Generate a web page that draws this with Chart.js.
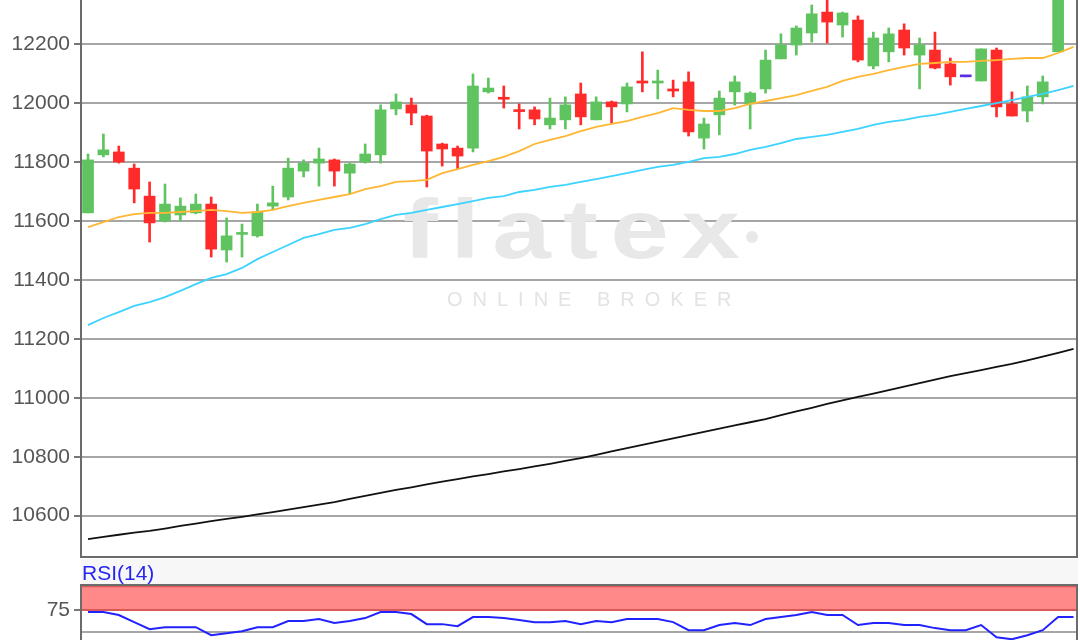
<!DOCTYPE html>
<html>
<head>
<meta charset="utf-8">
<script src="https://cdn.jsdelivr.net/npm/chart.js@4.4.1/dist/chart.umd.min.js"></script>
<style>
  html, body { margin: 0; padding: 0; background: #fff; overflow: hidden; width: 1080px; height: 640px; }
  #main { position: absolute; left: 0; top: 0; }
  #gap { position: absolute; left: 81px; top: 559px; width: 997px; height: 25px; background: #f7f7f7; }
  #rsiLabel { position: absolute; left: 82px; top: 561px; font: 21px "Liberation Sans", Arial, sans-serif; color: #2626f2; }
  #rsi { position: absolute; left: 0; top: 584px; }
</style>
</head>
<body>
<canvas id="main" width="1080" height="560"></canvas>
<div id="gap"></div>
<div id="rsiLabel">RSI(14)</div>
<canvas id="rsi" width="1080" height="91"></canvas>
<script>
// daily candles (64 sessions)
var opens = [11628,11825,11835,11780,11685,11600,11621,11628,11658,11502,
  11555,11550,11651,11682,11770,11797,11808,11763,11801,11825,
  11981,11995,11957,11862,11848,11848,12039,12020,11978,11978,
  11927,11944,12032,11944,12005,11998,12076,12069,12049,12073,
  11882,11961,12039,11998,12049,12151,12198,12239,12310,12266,
  12283,12127,12175,12249,12164,12181,12134,12090,12076,12181,
  11998,11974,12022,12175];
var highs = [11828,11896,11855,11794,11733,11726,11679,11692,11682,11611,
  11590,11658,11719,11814,11808,11848,11811,11797,11862,11995,
  12032,12018,11960,11865,11855,12100,12086,12059,11998,11988,
  12018,12022,12069,12022,12008,12069,12175,12113,12079,12107,
  11950,12042,12093,12039,12181,12236,12263,12334,12360,12310,
  12297,12242,12256,12270,12222,12242,12154,12090,12185,12188,
  12039,12059,12093,12420];
var lows = [11628,11818,11797,11662,11529,11597,11600,11625,11478,11461,
  11478,11546,11638,11672,11750,11719,11719,11692,11797,11797,
  11961,11927,11716,11787,11777,11835,12035,11984,11913,11927,
  11913,11913,11927,11944,11933,11971,12039,12015,12022,11889,
  11845,11893,11994,11913,12035,12151,12164,12208,12205,12225,
  12141,12117,12141,12164,12049,12117,12062,12090,12076,11954,
  11957,11937,11998,12175];
var closes = [11808,11842,11801,11709,11594,11658,11651,11658,11505,11550,
  11561,11631,11662,11780,11797,11811,11770,11794,11828,11978,
  12005,11967,11838,11845,11821,12059,12052,12014,11972,11947,
  11950,11995,11954,12005,11988,12056,12069,12076,12042,11903,
  11930,12018,12073,12035,12147,12198,12256,12304,12276,12307,
  12147,12222,12236,12188,12198,12120,12090,12090,12185,11988,
  11957,12022,12073,12400];

// moving averages and RSI (65 points)
var ma20 = [11580,11597,11614,11624,11628,11628,11631,11634,11638,11634,
  11628,11631,11638,11651,11662,11672,11682,11692,11709,11719,
  11733,11736,11740,11763,11777,11791,11804,11818,11838,11862,
  11876,11889,11906,11920,11930,11940,11954,11967,11984,11978,
  11974,11974,11984,11998,12008,12018,12028,12042,12056,12076,
  12090,12100,12113,12124,12134,12137,12141,12141,12144,12147,
  12151,12154,12154,12171,12192];
var ma50 = [11247,11271,11291,11312,11325,11342,11363,11386,11407,11420,
  11441,11471,11495,11519,11543,11556,11570,11577,11590,11607,
  11621,11628,11638,11648,11658,11668,11679,11685,11699,11706,
  11716,11723,11733,11743,11753,11763,11774,11784,11791,11801,
  11814,11818,11828,11842,11852,11865,11879,11886,11893,11903,
  11913,11927,11937,11944,11954,11961,11971,11981,11991,12001,
  12011,12022,12032,12045,12059];
var ma200 = [10520,10528,10535,10542,10548,10556,10565,10573,10581,10589,
  10596,10604,10612,10620,10629,10637,10646,10657,10667,10677,
  10687,10696,10706,10715,10724,10733,10741,10750,10758,10767,
  10776,10786,10795,10806,10818,10829,10840,10851,10862,10873,
  10884,10895,10906,10917,10928,10941,10954,10966,10979,10991,
  11003,11014,11026,11038,11050,11062,11074,11084,11094,11105,
  11115,11127,11140,11153,11166];
var rsi14 = [72.7,72.7,69.2,61.0,52.9,55.2,55.2,55.2,45.9,48.3,
  50.6,55.2,55.2,62.2,62.2,64.5,59.9,62.2,65.7,72.7,
  72.7,70.3,58.7,58.7,56.4,66.9,66.9,65.7,63.4,61.0,
  61.0,62.2,58.7,62.2,61.0,64.5,64.5,64.5,61.0,51.7,
  51.7,57.6,59.9,57.6,64.5,66.9,69.2,72.7,69.2,69.2,
  57.6,59.9,59.9,57.6,57.6,54.1,51.7,51.7,57.6,43.6,
  41.3,45.9,51.7,66.9,66.9];

var priceTicks = [10600,10800,11000,11200,11400,11600,11800,12000,12200];
var rsiTicks = [50,75];
var rsiBand = [75,102.5];

var FONT = '"Liberation Sans", Arial, sans-serif';
var GREEN = '#5fc45f', RED = '#ff2b2b', FLAT = '#5a2ee0';

function candleColor(i) {
  if (opens[i] === closes[i] && highs[i] === lows[i]) return FLAT;
  return closes[i] >= opens[i] ? GREEN : RED;
}
function pts(arr) { return arr.map(function(v, i) { return {x: i, y: v}; }); }

var xAxis = { type: 'linear', min: -0.52, max: 64.29, display: false, offset: false };

var boxPlugin = function(sides) {
  return {
    id: 'box',
    afterDatasetsDraw: function(chart) {
      var a = chart.chartArea, ctx = chart.ctx;
      ctx.save();
      ctx.strokeStyle = '#6b6b6b';
      ctx.lineWidth = 2;
      ctx.beginPath();
      if (sides.indexOf('left') >= 0) { ctx.moveTo(a.left + 1, a.top); ctx.lineTo(a.left + 1, a.bottom); }
      if (sides.indexOf('right') >= 0) { ctx.moveTo(a.right - 1, a.top); ctx.lineTo(a.right - 1, a.bottom); }
      if (sides.indexOf('bottom') >= 0) { ctx.moveTo(a.left, a.bottom - 1); ctx.lineTo(a.right, a.bottom - 1); }
      if (sides.indexOf('top') >= 0) { ctx.moveTo(a.left, a.top + 1); ctx.lineTo(a.right, a.top + 1); }
      ctx.stroke();
      ctx.restore();
    }
  };
};

var watermark = {
  id: 'watermark',
  beforeDatasetsDraw: function(chart) {
    var ctx = chart.ctx;
    ctx.save();
    ctx.fillStyle = '#e8e8e8';
    ctx.translate(403, 258);
    ctx.scale(1.25, 1);
    ctx.font = 'bold 84px ' + FONT;
    ctx.letterSpacing = '10px';
    ctx.fillText('flatex', 0, 0);
    ctx.letterSpacing = '0px';
    ctx.restore();
    ctx.save();
    ctx.fillStyle = '#e8e8e8';
    ctx.beginPath();
    ctx.arc(752, 237, 6, 0, Math.PI * 2);
    ctx.fill();
    ctx.fillStyle = '#e3e3e3';
    ctx.font = '20px ' + FONT;
    ctx.letterSpacing = '10px';
    ctx.fillText('ONLINE BROKER', 447, 306);
    ctx.letterSpacing = '0px';
    ctx.restore();
  }
};

new Chart(document.getElementById('main'), {
  type: 'bar',
  data: {
    datasets: [
      { type: 'line', data: pts(ma20), borderColor: '#ffb733', borderWidth: 1.8, pointRadius: 0, order: 0 },
      { type: 'line', data: pts(ma50), borderColor: '#3dd3ff', borderWidth: 1.8, pointRadius: 0, order: 0 },
      { type: 'line', data: pts(ma200), borderColor: '#111', borderWidth: 1.8, pointRadius: 0, order: 0 },
      {
        data: opens.map(function(o, i) { return {x: i, y: [o, closes[i]]}; }),
        backgroundColor: opens.map(function(o, i) { return candleColor(i); }),
        barThickness: 11, maxBarThickness: 11, minBarLength: 2, grouped: false, borderWidth: 0, order: 1
      },
      {
        data: lows.map(function(l, i) { return {x: i, y: [l, highs[i]]}; }),
        backgroundColor: lows.map(function(l, i) { return candleColor(i); }),
        barThickness: 2, maxBarThickness: 2, grouped: false, borderWidth: 0, order: 2
      }
    ]
  },
  options: {
    responsive: false,
    animation: false,
    layout: { padding: { left: 0, right: 2, top: 0, bottom: 2 } },
    plugins: { legend: { display: false }, tooltip: { enabled: false } },
    scales: {
      x: xAxis,
      y: {
        min: 10456, max: 12351,
        afterBuildTicks: function(s) { s.ticks = priceTicks.map(function(v) { return {value: v}; }); },
        afterFit: function(s) { s.width = 80; s.paddingTop = 0; s.paddingBottom = 0; },
        grid: { color: '#a6a6a6', lineWidth: 2, tickLength: 6, tickColor: '#777' },
        border: { display: false },
        ticks: {
          color: '#555', padding: 4, font: { size: 21, family: FONT },
          callback: function(v) { return String(v); }
        }
      }
    }
  },
  plugins: [watermark, boxPlugin(['left', 'right', 'bottom'])]
});

var rsiBandPlugin = {
  id: 'rsiBand',
  beforeDatasetsDraw: function(chart) {
    var ctx = chart.ctx, a = chart.chartArea, y = chart.scales.y;
    var y0 = y.getPixelForValue(rsiBand[0]), y1 = y.getPixelForValue(rsiBand[1]);
    ctx.save();
    ctx.fillStyle = '#ff8989';
    ctx.fillRect(a.left, y1, a.right - a.left, y0 - y1);
    ctx.strokeStyle = '#d95858';
    ctx.lineWidth = 2;
    ctx.beginPath();
    ctx.moveTo(a.left, y0); ctx.lineTo(a.right, y0);
    ctx.moveTo(a.left, y1); ctx.lineTo(a.right, y1);
    ctx.stroke();
    ctx.restore();
  }
};

new Chart(document.getElementById('rsi'), {
  type: 'line',
  data: {
    datasets: [
      { data: pts(rsi14), borderColor: '#2222ff', borderWidth: 2, pointRadius: 0 }
    ]
  },
  options: {
    responsive: false,
    animation: false,
    layout: { padding: { left: 0, right: 2, top: 0, bottom: 0 } },
    plugins: { legend: { display: false }, tooltip: { enabled: false } },
    scales: {
      x: xAxis,
      y: {
        min: 0, max: 105,
        afterBuildTicks: function(s) { s.ticks = rsiTicks.map(function(v) { return {value: v}; }); },
        afterFit: function(s) { s.width = 80; s.paddingTop = 0; s.paddingBottom = 0; },
        grid: {
          lineWidth: 2, tickLength: 6,
          color: function(c) { return c.tick && c.tick.value === 50 ? '#a6a6a6' : 'rgba(0,0,0,0)'; },
          tickColor: function(c) { return c.tick && c.tick.value === 75 ? '#777' : 'rgba(0,0,0,0)'; }
        },
        border: { display: false },
        ticks: {
          color: '#555', padding: 4, font: { size: 21, family: FONT },
          callback: function(v) { return v === 75 ? '75' : ''; }
        }
      }
    }
  },
  plugins: [rsiBandPlugin, boxPlugin(['left', 'right', 'top'])]
});
</script>
</body>
</html>
